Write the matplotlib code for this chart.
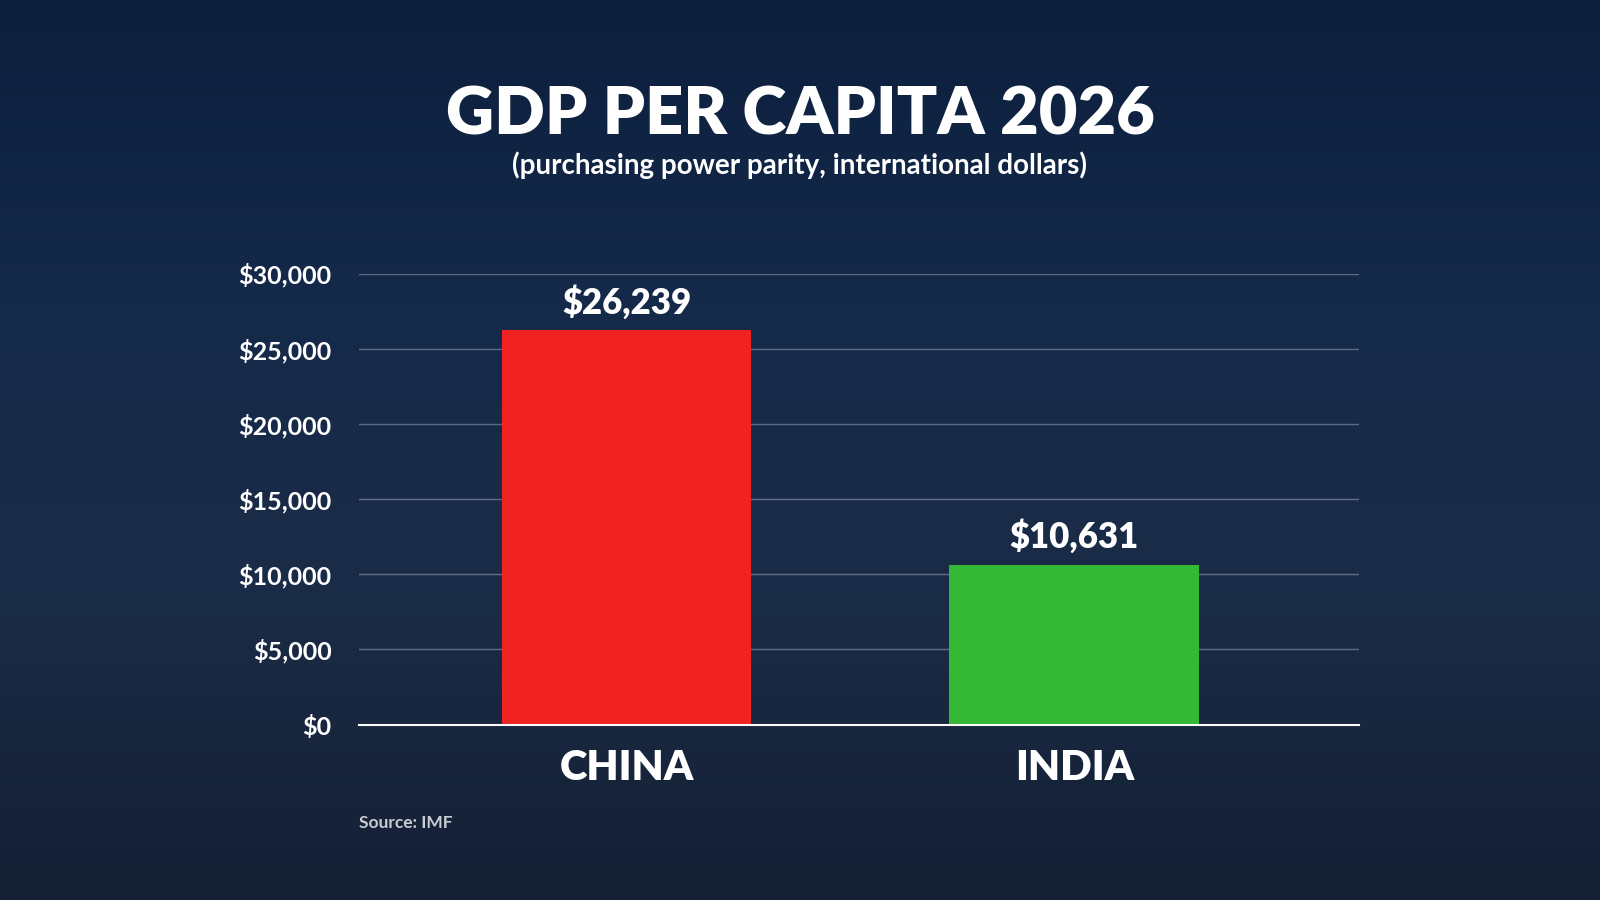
import numpy as np
import matplotlib.pyplot as plt
from matplotlib.ticker import FuncFormatter
from matplotlib.colors import LinearSegmentedColormap

countries = ["CHINA", "INDIA"]
gdp_values = [26239, 10631]
bar_colors = ["#f02222", "#36b837"]
y_ticks = [0, 5000, 10000, 15000, 20000, 25000, 30000]

plt.rcParams['font.family'] = ['Lato', 'DejaVu Sans']

fig = plt.figure(figsize=(16, 9), dpi=100)

# background gradient standing in for the night city photo
bg = fig.add_axes([0, 0, 1, 1], zorder=-10)
grad = np.linspace(0, 1, 256).reshape(-1, 1)
cmap = LinearSegmentedColormap.from_list("bg", ["#0c1f3d", "#15294a", "#1b2c47", "#141f33"])
bg.imshow(grad, aspect="auto", cmap=cmap, extent=[0, 1, 0, 1])
bg.axis("off")

ax = fig.add_axes([0.2245, 0.195, 0.625, 0.501])
ax.set_facecolor("none")
x = np.arange(len(countries))
bars = ax.bar(x, gdp_values, width=0.558, color=bar_colors, zorder=3)
ax.set_xlim(-0.597, 1.636)
ax.set_ylim(0, 30000)
ax.set_yticks(y_ticks)
ax.yaxis.set_major_formatter(FuncFormatter(lambda v, p: f"${int(v):,}"))
ax.grid(axis="y", color="#8a9ab0", alpha=0.6, linewidth=1, zorder=0)
for s in ["top", "right", "left"]:
    ax.spines[s].set_visible(False)
ax.spines["bottom"].set_color("white")
ax.spines["bottom"].set_linewidth(1.5)
ax.spines["bottom"].set_zorder(4)
ax.tick_params(axis="y", length=0, labelsize=18, labelcolor="white", pad=20)
for lab in ax.get_yticklabels():
    lab.set_fontweight("bold")
ax.set_xticks(x)
ax.set_xticklabels(countries, fontsize=30, fontweight="heavy", color="white")
ax.tick_params(axis="x", length=0, pad=18)

for bar, v in zip(bars, gdp_values):
    ax.text(bar.get_x() + bar.get_width() / 2, v + 700, f"${v:,}",
            ha="center", va="bottom", fontsize=25, fontweight="heavy", color="white")

fig.text(0.5, 0.872, "GDP PER CAPITA 2026", ha="center", va="center",
         fontsize=48, fontweight="heavy", color="white")
fig.text(0.5, 0.816, "(purchasing power parity, international dollars)", ha="center",
         va="center", fontsize=20, fontweight="bold", color="white")
fig.text(0.2245, 0.085, "Source: IMF", ha="left", va="center",
         fontsize=12.5, fontweight="bold", color="#c8ccd4")

fig.savefig("out.png", dpi=100)
